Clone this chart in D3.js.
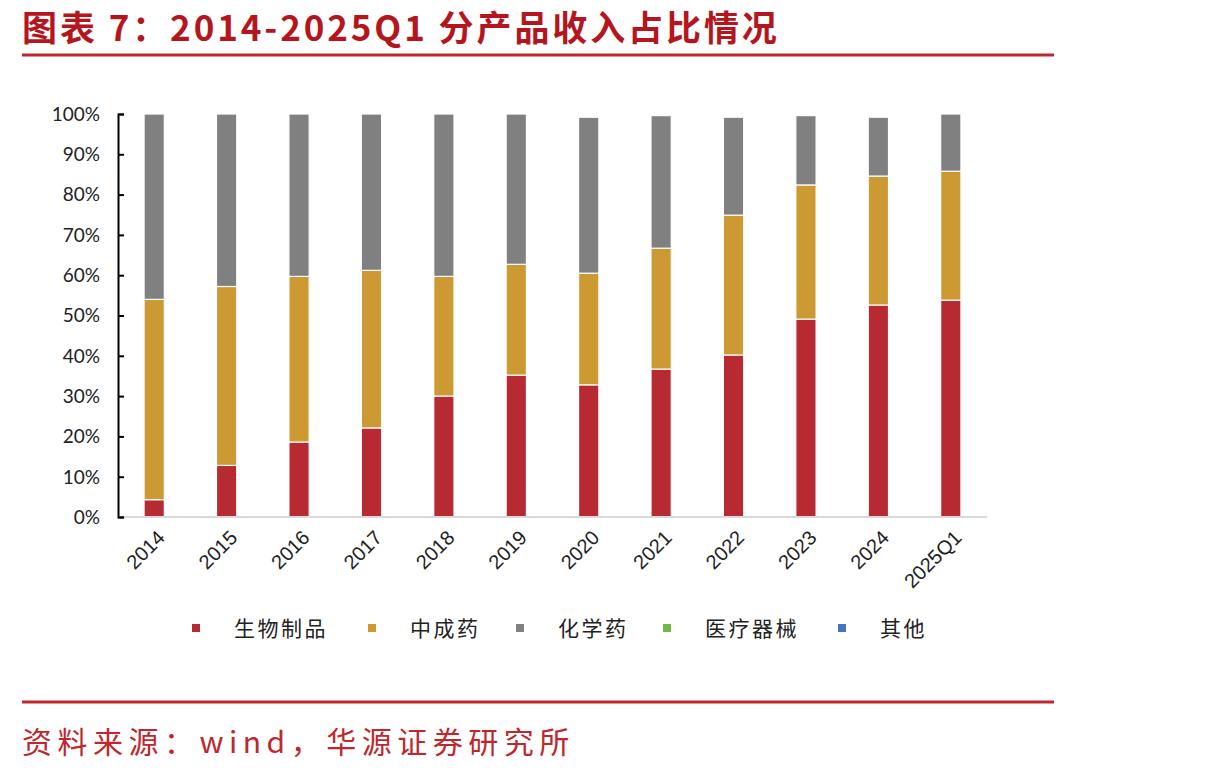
<!DOCTYPE html>
<html>
<head>
<meta charset="utf-8">
<script src="https://cdn.jsdelivr.net/npm/d3@7"></script>
<style>
  body { margin: 0; background: #fff; }
  svg { display: block; }
</style>
</head>
<body>
<div id="chart"></div>
<script>
const WIDTH = 1210;
const HEIGHT = 774;

// categories and series (share of revenue, %)
const years = ["2014", "2015", "2016", "2017", "2018", "2019", "2020", "2021", "2022", "2023", "2024", "2025Q1"];
const seriesNames = ["生物制品", "中成药", "化学药", "医疗器械", "其他"];
const bio = [4.3, 12.8, 18.6, 22.1, 30.0, 35.2, 32.8, 36.7, 40.2, 49.1, 52.6, 53.8];
const tcm = [49.7, 44.4, 41.1, 39.1, 29.7, 27.5, 27.7, 30.0, 34.7, 33.3, 32.0, 32.0];
const chem = [46.0, 42.8, 40.3, 38.8, 40.3, 37.3, 38.7, 32.9, 24.3, 17.2, 14.6, 14.2];
const device = [0, 0, 0, 0, 0, 0, 0, 0, 0, 0, 0, 0];
const other = [0, 0, 0, 0, 0, 0, 0, 0, 0, 0, 0, 0];
const yTicks = [0, 10, 20, 30, 40, 50, 60, 70, 80, 90, 100];

const COLORS = ["#B82A31", "#CC9933", "#808080", "#70B943", "#4472C4"];
const RED = "#C0272D";

const table = years.map((y, i) => ({
  year: y,
  "生物制品": bio[i], "中成药": tcm[i], "化学药": chem[i], "医疗器械": device[i], "其他": other[i]
}));

const svg = d3.select("#chart").append("svg")
  .attr("width", WIDTH).attr("height", HEIGHT);

// title
svg.append("text")
  .attr("x", 22).attr("y", 41)
  .attr("font-family", "'Noto Sans CJK SC', sans-serif")
  .attr("font-weight", "bold")
  .attr("font-size", 35)
  .attr("letter-spacing", 2.9)
  .attr("fill", "#B5161E")
  .text("图表 7：2014-2025Q1 分产品收入占比情况");

svg.append("line")
  .attr("x1", 22).attr("x2", 1054).attr("y1", 55).attr("y2", 55)
  .attr("stroke", RED).attr("stroke-width", 3);

// plot area
const PLOT = {left: 118, right: 987, top: 114, bottom: 517};

const x = d3.scaleBand()
  .domain(years)
  .range([PLOT.left, PLOT.right])
  .paddingInner(0.72)
  .paddingOuter(0.36);

const y = d3.scaleLinear()
  .domain([0, 100])
  .range([PLOT.bottom, PLOT.top]);

const stack = d3.stack().keys(seriesNames)(table);

svg.append("g")
  .selectAll("g")
  .data(stack)
  .join("g")
    .attr("fill", (d, i) => COLORS[i])
  .selectAll("rect")
  .data(d => d.filter(p => p[1] - p[0] > 0))
  .join("rect")
    .attr("x", d => x(d.data.year))
    .attr("width", x.bandwidth())
    .attr("y", d => y(d[1]))
    .attr("height", d => y(d[0]) - y(d[1]))
    .attr("stroke", "#fff")
    .attr("stroke-width", 1.2);

// x axis baseline
svg.append("line")
  .attr("x1", PLOT.left).attr("x2", PLOT.right)
  .attr("y1", PLOT.bottom).attr("y2", PLOT.bottom)
  .attr("stroke", "#D9D9D9").attr("stroke-width", 2);

// y axis
const yAxis = svg.append("g")
  .attr("transform", "translate(" + PLOT.left + ",0)")
  .call(d3.axisRight(y).tickValues(yTicks).tickSize(6).tickFormat(""));
yAxis.select(".domain").attr("stroke", "#000").attr("stroke-width", 2);
yAxis.selectAll(".tick line").attr("stroke", "#000").attr("stroke-width", 2);

svg.append("g")
  .selectAll("text")
  .data(yTicks)
  .join("text")
    .attr("x", 100)
    .attr("y", d => y(d))
    .attr("dy", "0.36em")
    .attr("text-anchor", "end")
    .attr("font-family", "Lato, 'Open Sans', sans-serif")
    .attr("font-size", 19)
    .attr("fill", "#222")
    .text(d => d + "%");

// x labels
svg.append("g")
  .selectAll("text")
  .data(years)
  .join("text")
    .attr("transform", d => "translate(" + (x(d) + x.bandwidth() / 2 + 7) + "," + 534 + ") rotate(-45)")
    .attr("text-anchor", "end")
    .attr("dy", "0.35em")
    .attr("font-family", "'Liberation Sans', Arial, sans-serif")
    .attr("font-size", 20)
    .attr("fill", "#222")
    .text(d => d);

// legend
const legendX = [192, 368, 516, 663, 838];
const legend = svg.append("g")
  .selectAll("g")
  .data(seriesNames)
  .join("g")
    .attr("transform", (d, i) => "translate(" + legendX[i] + ",628)");
legend.append("rect")
  .attr("x", 0).attr("y", -4).attr("width", 8).attr("height", 8)
  .attr("fill", (d, i) => COLORS[i]);
legend.append("text")
  .attr("x", 42).attr("dy", "0.36em")
  .attr("font-family", "'Noto Sans CJK SC', sans-serif")
  .attr("font-size", 21)
  .attr("letter-spacing", 2.5)
  .attr("fill", "#222")
  .text(d => d);

// footer
svg.append("line")
  .attr("x1", 22).attr("x2", 1054).attr("y1", 702).attr("y2", 702)
  .attr("stroke", RED).attr("stroke-width", 3);

svg.append("text")
  .attr("x", 22).attr("y", 753)
  .attr("font-family", "'Noto Sans CJK SC', sans-serif")
  .attr("font-size", 30)
  .attr("letter-spacing", 5.5)
  .attr("fill", RED)
  .text("资料来源：wind，华源证券研究所");
</script>
</body>
</html>
